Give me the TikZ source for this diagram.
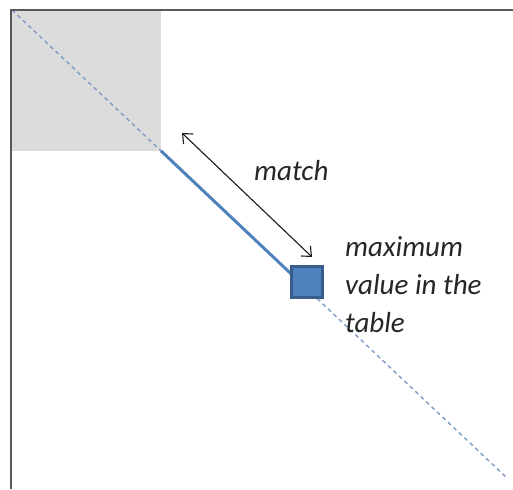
\documentclass[tikz,border=0pt]{standalone}
\usepackage{fontspec}
\setmainfont{Carlito}
\usetikzlibrary{arrows.meta,calc}
\definecolor{framegray}{HTML}{595959}
\definecolor{cornergray}{HTML}{DCDCDC}
\definecolor{officeblue}{HTML}{4F81BD}
\definecolor{darkblue}{HTML}{385D8A}
\definecolor{dashblue}{HTML}{7F9BC6}
\tikzset{
  framestyle/.style={draw=framegray, line width=1.2pt},
  diag/.style={draw=dashblue, line width=1.4pt, dash pattern=on 4pt off 3.5pt},
  runline/.style={draw=officeblue, line width=3pt},
  maxbox/.style={draw=darkblue, fill=officeblue, line width=2.2pt, minimum size=31pt, inner sep=0pt},
  lbl/.style={font=\itshape\fontsize{29}{38}\selectfont, text=black!85, inner sep=0pt},
  dblarrow/.style={draw=black!90, line width=1.1pt, {Straight Barb[length=8pt,width=14pt]}-{Straight Barb[length=8pt,width=14pt]}}
}
\begin{document}
\begin{tikzpicture}[x=1pt,y=-1pt]
\useasboundingbox (0,0) rectangle (513,489);
\coordinate (tl) at (12,10);
\coordinate (br) at (507,478);
\coordinate (gc) at ($(tl)!0.3010!(br)$);
\coordinate (se) at ($(tl)!0.5636!(br)$);
\fill[cornergray] (tl) rectangle (gc);
\draw[diag] (tl) -- (br);
\draw[runline] (gc) -- (se);
\node[maxbox] (sq) at (307,282) {};
\draw[framestyle] (11,489) -- (11,10) -- (513,10);
\coordinate (a1) at (182,133);
\coordinate (a2) at (312,257);
\draw[dblarrow] (a1) -- (a2);
\node[lbl, anchor=base west] (match) at (254,180) {match};
\node[lbl, anchor=north west, align=left] (maxv) at (345,236) {maximum\\value in the\\table};
\end{tikzpicture}
\end{document}
